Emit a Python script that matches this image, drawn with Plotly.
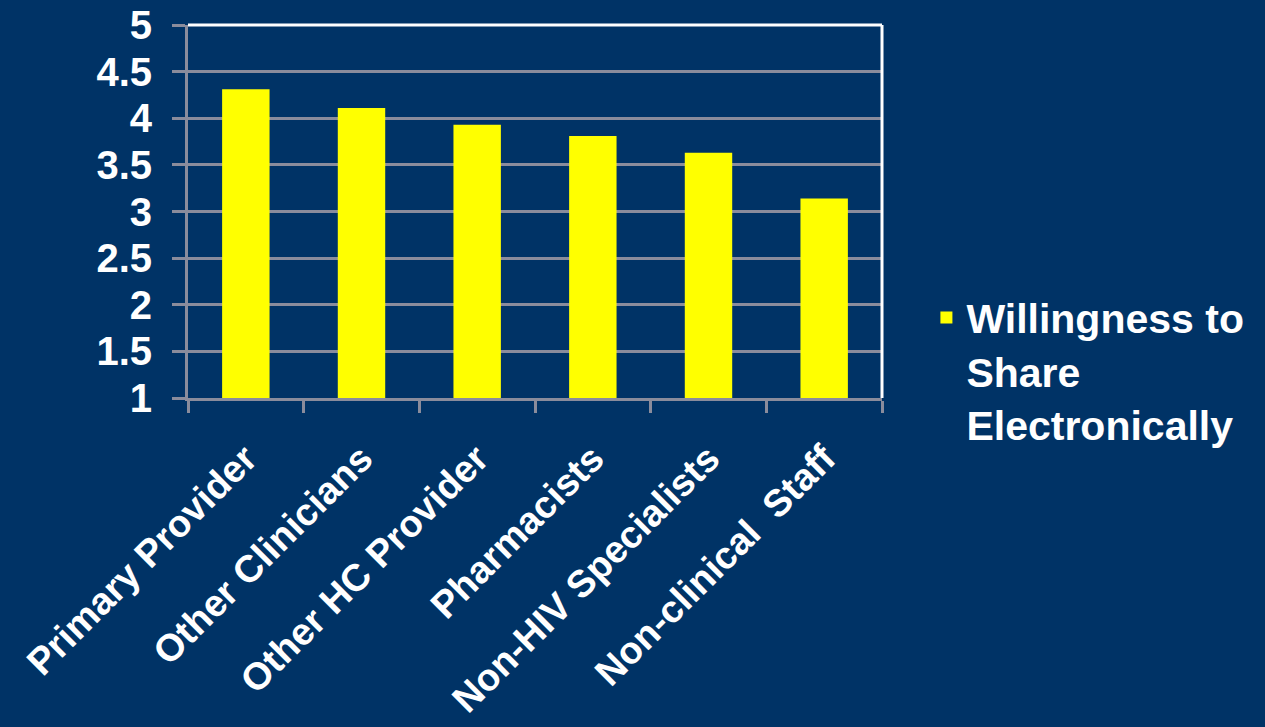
import plotly.graph_objects as go

categories = ["Primary Provider", "Other Clinicians", "Other HC Provider",
              "Pharmacists", "Non-HIV Specialists", "Non-clinical  Staff"]
values = [4.31, 4.11, 3.93, 3.81, 3.63, 3.14]
series_name = "Willingness to<br>Share<br>Electronically"
y_ticks = [1, 1.5, 2, 2.5, 3, 3.5, 4, 4.5, 5]
y_tick_labels = ["1", "1.5", "2", "2.5", "3", "3.5", "4", "4.5", "5"]

BG = "#003366"
GRID = "#8a8c9c"
FONT = "Liberation Sans, Arial, sans-serif"

fig = go.Figure()
fig.add_trace(go.Bar(
    x=categories, y=[v - 1 for v in values], base=1,
    name=series_name, marker=dict(color="#ffff00", line=dict(width=0)),
    width=0.41, showlegend=True,
))

fig.update_layout(
    width=1265, height=727,
    paper_bgcolor=BG, plot_bgcolor=BG,
    margin=dict(l=188, r=383, t=25, b=329, autoexpand=False),
    font=dict(family=FONT, color="white", size=28, weight="bold"),
    showlegend=True,
    legend=dict(
        x=1.064, xanchor="left", y=0.305, yanchor="top",
        font=dict(family=FONT, size=41, color="white", weight="bold"),
        bgcolor="rgba(0,0,0,0)", valign="top", itemwidth=30,
    ),
    bargap=0.59,
)
fig.update_xaxes(
    type="category", showline=True, linecolor=GRID, linewidth=3,
    ticks="outside", tickson="boundaries", ticklen=12, tickcolor=GRID, tickwidth=3,
    tickangle=-45, tickfont=dict(size=38, family=FONT, color="white", weight="bold"),
    ticklabelstandoff=20, automargin=False,
    showgrid=False,
)
fig.update_yaxes(
    range=[1, 5], tickvals=y_ticks, ticktext=y_tick_labels,
    showline=True, linecolor=GRID, linewidth=3,
    ticks="outside", ticklen=13, tickcolor=GRID, tickwidth=3,
    ticklabelstandoff=12, automargin=False,
    showgrid=True, gridcolor=GRID, gridwidth=3, zeroline=False,
    tickfont=dict(size=40, family=FONT, color="white", weight="bold"),
)
# white top and right border
fig.add_shape(type="line", xref="paper", yref="paper", x0=0, x1=1, y0=1, y1=1,
              line=dict(color="white", width=3))
fig.add_shape(type="line", xref="paper", yref="paper", x0=1, x1=1, y0=0, y1=1,
              line=dict(color="white", width=3))

fig.write_html("out.html")
